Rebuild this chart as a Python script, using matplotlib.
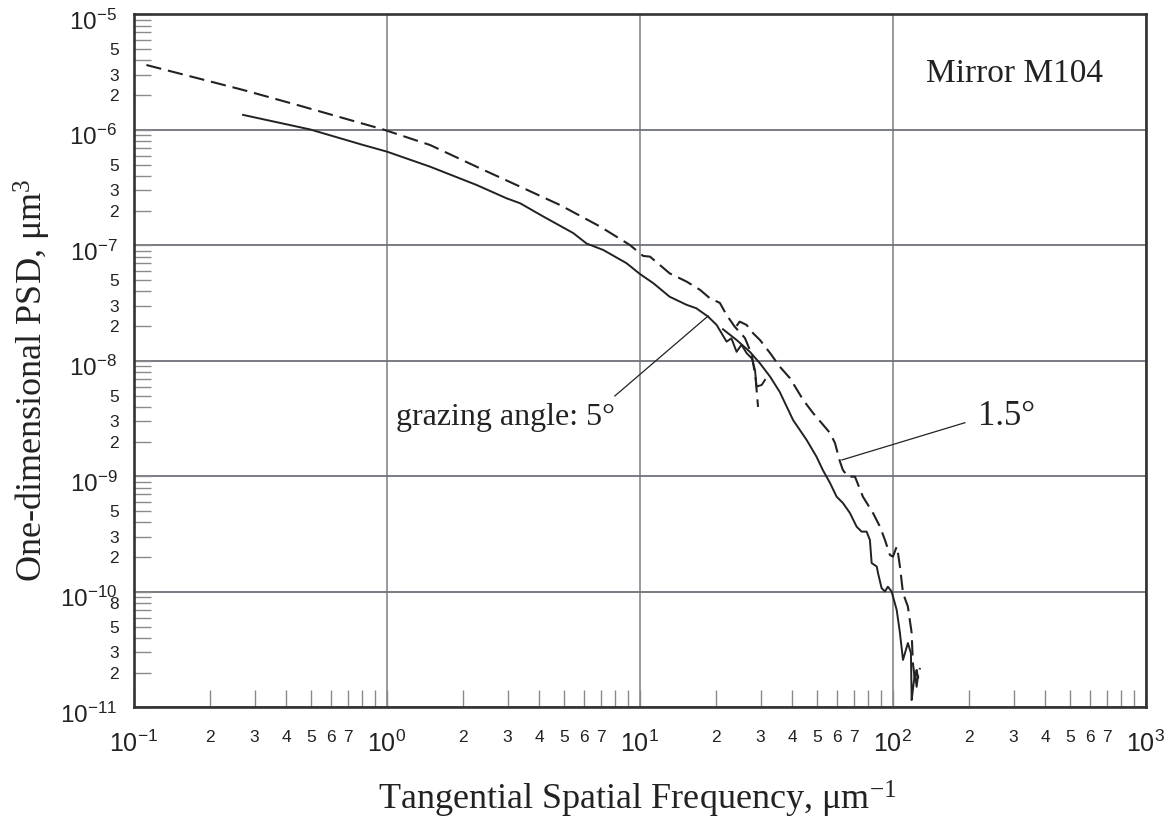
import numpy as np
import matplotlib
matplotlib.use('Agg')
import matplotlib.pyplot as plt
import matplotlib.transforms as mtransforms
from matplotlib.ticker import LogLocator, FuncFormatter

plt.rcParams['font.family'] = 'Liberation Sans'
plt.rcParams['lines.scale_dashes'] = False

# grazing angle 5 deg, low-frequency scan
freq_5_low = [0.270, 0.497, 0.805, 1.0, 1.48, 2.26, 2.97, 3.36, 4.15, 5.45, 6.15, 7.16, 8.85,
              10.0, 11.3, 13.1, 15.3, 16.7, 18.6, 20.1, 22.0, 23.0, 24.1, 25.2, 26.4, 27.7,
              28.5, 28.9, 30.3, 31.2]
psd_5_low = [1.35e-6, 1.01e-6, 7.41e-7, 6.49e-7, 4.81e-7, 3.34e-7, 2.56e-7, 2.32e-7, 1.78e-7,
             1.28e-7, 1.04e-7, 9.14e-8, 7.02e-8, 5.66e-8, 4.71e-8, 3.60e-8, 3.06e-8, 2.86e-8,
             2.42e-8, 2.05e-8, 1.47e-8, 1.57e-8, 1.20e-8, 1.38e-8, 1.17e-8, 1.05e-8, 8.36e-9,
             6.0e-9, 6.2e-9, 6.85e-9]
# grazing angle 5 deg, high-frequency scan
freq_5_high = [21.3, 24.1, 27.2, 29.8, 32.7, 35.7, 40.3, 45.6, 49.9, 52.8, 56.4, 59.9, 63.4,
               67.6, 71.9, 75.2, 78.7, 81.1, 82.4, 86.3, 87.3, 90.2, 93.0, 95.5, 98.8, 103.5,
               106.6, 109.6, 114.6, 117.8, 118.6, 119.9, 122.2, 124.1, 125.6]
psd_5_high = [1.88e-8, 1.52e-8, 1.20e-8, 9.55e-9, 7.31e-9, 5.39e-9, 3.08e-9, 2.07e-9, 1.48e-9,
              1.14e-9, 8.79e-10, 6.68e-10, 5.90e-10, 4.83e-10, 3.67e-10, 3.33e-10, 3.33e-10,
              2.82e-10, 1.78e-10, 1.66e-10, 1.46e-10, 1.08e-10, 1.01e-10, 1.11e-10, 1.01e-10,
              6.98e-11, 4.42e-11, 2.58e-11, 3.61e-11, 2.96e-11, 1.16e-11, 1.42e-11, 1.99e-11,
              1.51e-11, 1.87e-11]
# grazing angle 1.5 deg, low-frequency scan
freq_15_low = [0.112, 0.270, 0.44, 0.966, 1.48, 2.33, 3.36, 4.83, 6.95, 9.12, 10.3, 10.96,
               13.1, 15.3, 17.3, 18.9, 20.7, 22.0, 23.7, 26.0, 27.7, 28.7, 29.3]
psd_15_low = [3.65e-6, 2.22e-6, 1.65e-6, 1.01e-6, 7.41e-7, 4.66e-7, 3.23e-7, 2.24e-7, 1.46e-7,
              1.01e-7, 8.11e-8, 8.0e-8, 5.74e-8, 4.86e-8, 4.12e-8, 3.49e-8, 3.18e-8, 2.50e-8,
              1.98e-8, 1.58e-8, 1.13e-8, 6.85e-9, 4.0e-9]
# grazing angle 1.5 deg, high-frequency scan
freq_15_high = [24.1, 24.8, 26.4, 28.0, 29.8, 32.7, 35.7, 39.2, 44.2, 48.3, 56.4, 59.0, 61.8,
                63.4, 66.4, 70.8, 76.1, 83.4, 88.9, 93.0, 97.3, 100.0, 103.5, 104.7, 106.6,
                109.6, 114.6, 118.6, 119.9, 122.2, 124.1, 125.6, 127.9]
psd_15_high = [2.01e-8, 2.19e-8, 2.05e-8, 1.74e-8, 1.52e-8, 1.17e-8, 8.93e-9, 7.08e-9, 4.59e-9,
               3.55e-9, 2.38e-9, 1.95e-9, 1.34e-9, 1.14e-9, 9.95e-10, 9.95e-10, 6.68e-10,
               4.83e-10, 3.67e-10, 2.82e-10, 2.09e-10, 2.02e-10, 2.47e-10, 2.18e-10, 1.66e-10,
               9.8e-11, 7.46e-11, 4.42e-11, 2.43e-11, 1.73e-11, 2.11e-11, 1.80e-11, 2.2e-11]

# leader lines (data coords)
lead_5_x = [7.96, 18.6]
lead_5_y = [4.98e-9, 2.45e-8]
lead_15_x = [192.6, 62.9]
lead_15_y = [2.92e-9, 1.39e-9]

fig = plt.figure(figsize=(11.73, 8.21), dpi=100)
ax = fig.add_axes([0.1142, 0.1383, 0.8627, 0.8441])
ax.set_xscale('log')
ax.set_yscale('log')
ax.set_xlim(0.1, 1000)
ax.set_ylim(1e-11, 1e-5)

ink = '#222222'
ax.plot(freq_5_low, psd_5_low, color=ink, lw=1.4)
ax.plot(freq_5_high, psd_5_high, color=ink, lw=1.4)
ax.plot(freq_15_low, psd_15_low, color=ink, lw=1.5, dashes=(11, 5))
ax.plot(freq_15_high, psd_15_high, color=ink, lw=1.5, dashes=(11, 5))
ax.plot(lead_5_x, lead_5_y, color=ink, lw=0.9)
ax.plot(lead_15_x, lead_15_y, color=ink, lw=0.9)

# grid only at decades
ax.grid(which='major', axis='x', color='#8e9399', lw=1.3)
ax.grid(which='major', axis='y', color='#6d7278', lw=1.3)
ax.set_axisbelow(True)

ax.xaxis.set_major_locator(LogLocator(base=10, numticks=10))
ax.yaxis.set_major_locator(LogLocator(base=10, numticks=10))
ax.xaxis.set_minor_locator(LogLocator(base=10, subs=np.arange(2, 10), numticks=20))
ax.yaxis.set_minor_locator(LogLocator(base=10, subs=np.arange(2, 10), numticks=20))


def major_fmt(v, pos):
    return r'$\mathregular{10^{%d}}$' % int(round(np.log10(v)))


def mant(v):
    e = np.floor(np.log10(v) + 1e-9)
    return int(round(v / 10 ** e)), int(e)


def xminor_fmt(v, pos):
    m, e = mant(v)
    return str(m) if 2 <= m <= 7 else ''


def yminor_fmt(v, pos):
    m, e = mant(v)
    if m in (2, 3, 5) or (m == 8 and e == -11):
        return str(m)
    return ''


ax.xaxis.set_major_formatter(FuncFormatter(major_fmt))
ax.yaxis.set_major_formatter(FuncFormatter(major_fmt))
ax.xaxis.set_minor_formatter(FuncFormatter(xminor_fmt))
ax.yaxis.set_minor_formatter(FuncFormatter(yminor_fmt))

ax.tick_params(which='both', direction='in', top=False, right=False,
               color='#8a8a8a', width=1.0, labelcolor='#222222')
ax.tick_params(which='major', length=12)
ax.tick_params(which='minor', length=12, labelsize=12.5)
ax.tick_params(axis='x', which='major', labelsize=18, pad=17)
ax.tick_params(axis='x', which='minor', pad=16)
ax.tick_params(axis='y', which='major', labelsize=17.5, pad=12)
ax.tick_params(axis='y', which='minor', pad=11)

for s in ax.spines.values():
    s.set_linewidth(1.9)
    s.set_color('#333333')

serif = 'Liberation Serif'
ax.set_xlabel(r'Tangential Spatial Frequency, μm$\mathregular{^{-1}}$',
              family=serif, fontsize=26, color=ink, va='baseline')
ax.xaxis.set_label_coords(0.4975, -0.148)
ax.set_ylabel(r'One-dimensional PSD, μm$\mathregular{^{3}}$',
              family=serif, fontsize=26, color=ink, va='baseline')
ax.yaxis.set_label_coords(-0.0899, 0.4726)

ax.text(0.8705, 0.9026, 'Mirror M104', transform=ax.transAxes, family=serif,
        fontsize=24, color=ink, ha='center', va='baseline')
ax.text(0.2589, 0.4077, 'grazing angle: 5°', transform=ax.transAxes, family=serif,
        fontsize=23, color=ink, ha='left', va='baseline')
ax.text(0.834, 0.4077, '1.5°', transform=ax.transAxes, family=serif,
        fontsize=25, color=ink, ha='left', va='baseline')

# nudge the decade labels on y slightly below their grid lines, as in the original
fig.canvas.draw()
shift = mtransforms.ScaledTranslation(0, -5 / 100, fig.dpi_scale_trans)
for t in ax.yaxis.get_major_ticks():
    t.label1.set_transform(t.label1.get_transform() + shift)

fig.savefig('out.png', dpi=100, facecolor='white')
